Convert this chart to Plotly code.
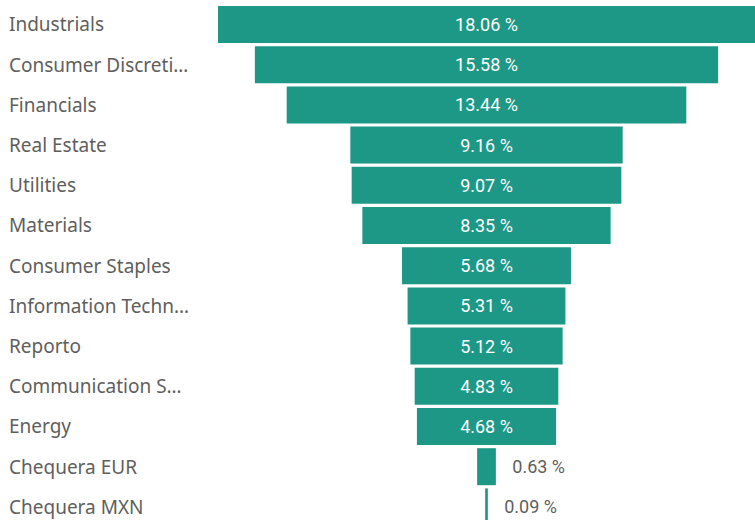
import plotly.graph_objects as go

categories = ["Industrials", "Consumer Discreti…", "Financials", "Real Estate", "Utilities",
              "Materials", "Consumer Staples", "Information Techn…", "Reporto",
              "Communication S…", "Energy", "Chequera EUR", "Chequera MXN"]
values = [18.06, 15.58, 13.44, 9.16, 9.07, 8.35, 5.68, 5.31, 5.12, 4.83, 4.68, 0.63, 0.09]

W, H = 755, 520
L = 218
plot_w = W - L
half = max(values) / 2

positions = ["inside" if v > 2 else "outside" for v in values]
templates = ["%{x:.2f} %" if v > 2 else "\u00a0\u00a0\u00a0%{x:.2f} %" for v in values]

fig = go.Figure(go.Funnel(
    y=categories,
    x=values,
    texttemplate=templates,
    textposition=positions,
    insidetextfont=dict(family="Roboto", size=18, color="#ffffff"),
    outsidetextfont=dict(family="Roboto", size=18, color="#605e5c"),
    marker=dict(color="#1e9886"),
    connector=dict(visible=False),
    cliponaxis=False,
    hoverinfo="skip",
))

for c in categories:
    fig.add_annotation(
        x=(7 - L) / plot_w, xref="paper", xanchor="left",
        y=c, yref="y", yanchor="middle",
        text=c, showarrow=False,
        font=dict(family="Noto Sans", size=19, color="#605e5c"),
    )

fig.update_layout(
    width=W, height=H,
    margin=dict(l=L, r=0, t=0, b=0),
    paper_bgcolor="white", plot_bgcolor="white",
    funnelgap=0.08,
    showlegend=False,
    xaxis=dict(visible=False, range=[-half, half]),
    yaxis=dict(showticklabels=False, showgrid=False, zeroline=False,
               range=[12.326, -0.609]),
)

fig.write_html(
    "out.html",
    config={"displayModeBar": False},
    post_script="document.body.style.margin='0';document.body.style.overflow='hidden';",
)
